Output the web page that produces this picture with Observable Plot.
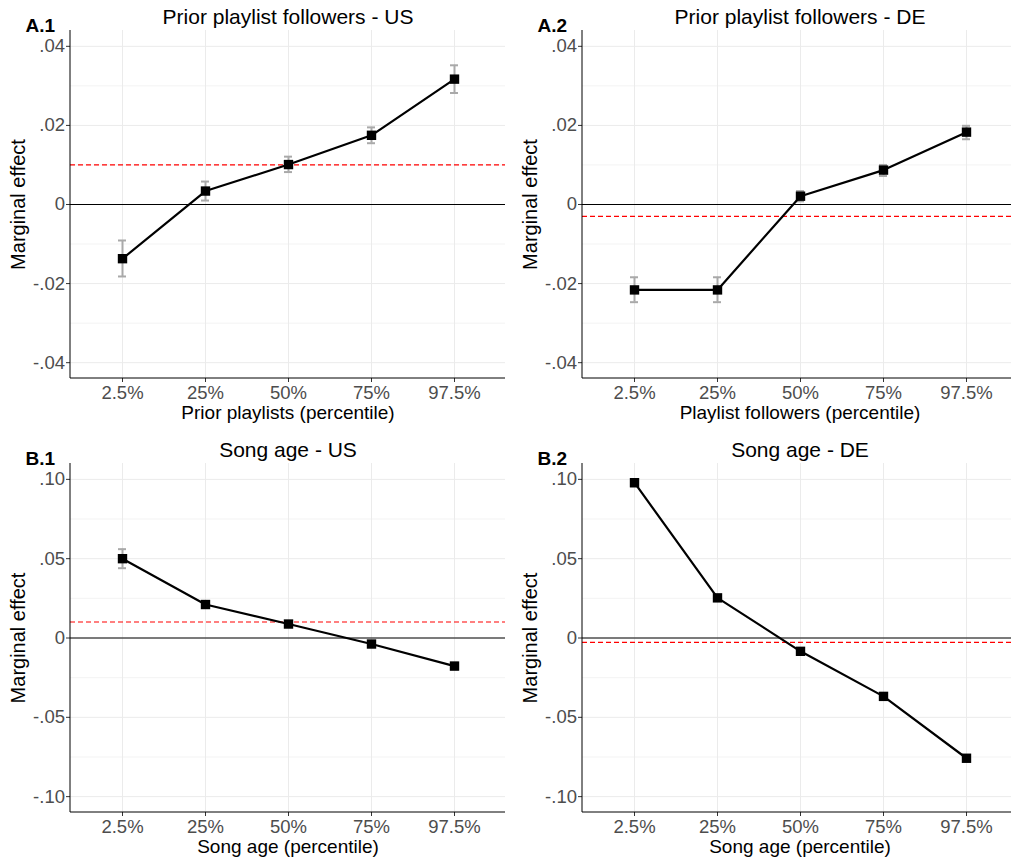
<!DOCTYPE html>
<html>
<head>
<meta charset="utf-8">
<script src="https://cdn.jsdelivr.net/npm/d3@7"></script>
<script src="https://cdn.jsdelivr.net/npm/@observablehq/plot@0.6"></script>
<style>
  html, body { margin: 0; padding: 0; background: white; }
  #wrap { position: relative; width: 1011px; height: 858px; overflow: hidden; background: white; }
  #wrap svg { position: absolute; }
</style>
</head>
<body>
<div id="wrap"></div>
<script>
// ---- data ----
const categories = ["2.5%", "25%", "50%", "75%", "97.5%"];

const a1Est = [-0.0137, 0.0034, 0.0101, 0.0175, 0.0317];
const a1Lo  = [-0.0182, 0.0010, 0.0082, 0.0155, 0.0282];
const a1Hi  = [-0.0091, 0.0058, 0.0121, 0.0195, 0.0352];
const a1Ref = 0.0100;

const a2Est = [-0.0216, -0.0216, 0.0021, 0.0087, 0.0183];
const a2Lo  = [-0.0247, -0.0247, 0.0008, 0.0072, 0.0165];
const a2Hi  = [-0.0184, -0.0184, 0.0034, 0.0100, 0.0199];
const a2Ref = -0.0030;

const b1Est = [0.0500, 0.0211, 0.0088, -0.0038, -0.0177];
const b1Lo  = [0.0440, 0.0190, 0.0075, -0.0052, -0.0198];
const b1Hi  = [0.0560, 0.0232, 0.0101, -0.0024, -0.0156];
const b1Ref = 0.0101;

const b2Est = [0.0979, 0.0253, -0.0084, -0.0368, -0.0758];
const b2Lo  = [0.0955, 0.0240, -0.0094, -0.0378, -0.0768];
const b2Hi  = [0.0995, 0.0266, -0.0074, -0.0358, -0.0748];
const b2Ref = -0.0027;

const yTicksA = [-0.04, -0.02, 0, 0.02, 0.04];
const yMinorA = [-0.03, -0.01, 0.01, 0.03];
const yDomainA = [-0.044, 0.044];
const yTicksB = [-0.10, -0.05, 0, 0.05, 0.10];
const yMinorB = [-0.075, -0.025, 0.025, 0.075];
const yDomainB = [-0.11, 0.11];

const titles = ["Prior playlist followers - US", "Prior playlist followers - DE", "Song age - US", "Song age - DE"];
const tags = ["A.1", "A.2", "B.1", "B.2"];
const xLabels = ["Prior playlists (percentile)", "Playlist followers (percentile)", "Song age (percentile)", "Song age (percentile)"];
const yLabel = "Marginal effect";

// ---- drawing ----
const fmt = d => d === 0 ? "0" : (d < 0 ? "-" : "") + Math.abs(d).toFixed(2).slice(1);
const FONT = "'Liberation Sans', Arial, sans-serif";

function axisLines(index, scales, values, dims) {
  const {width, height, marginLeft, marginRight, marginTop, marginBottom} = dims;
  return d3.create("svg:path")
    .attr("d", `M${marginLeft},${marginTop}V${height - marginBottom}H${width - marginRight}`)
    .attr("fill", "none").attr("stroke", "#000").attr("stroke-width", 1)
    .node();
}

function panel(i, est, lo, hi, ref, domain, ticks, minor, left, top, mTop, mBottom) {
  const rows = categories.map((c, k) => ({cat: c, est: est[k], lo: lo[k], hi: hi[k]}));
  const svg = Plot.plot({
    width: 505, height: 430,
    marginLeft: 70, marginRight: 0, marginTop: mTop, marginBottom: mBottom,
    style: {fontFamily: FONT, fontSize: "18.5px", background: "transparent", overflow: "visible"},
    x: {type: "band", domain: categories, paddingInner: 0.905, paddingOuter: 0.548, align: 0.5},
    y: {domain: domain},
    marks: [
      Plot.ruleY(minor, {stroke: "#f3f3f3", strokeWidth: 1}),
      Plot.ruleY(ticks, {stroke: "#ebebeb", strokeWidth: 1}),
      Plot.ruleX(categories, {stroke: "#ebebeb", strokeWidth: 1}),
      Plot.ruleY([0], {stroke: "#000", strokeWidth: 1}),
      Plot.ruleY([ref], {stroke: "#ff0000", strokeWidth: 1.2, strokeDasharray: "5,3"}),
      Plot.axisX({tickSize: 4, tickPadding: 3, stroke: "#333", fill: "#4d4d4d", label: null, fontSize: 18.5}),
      Plot.axisY({ticks: ticks, tickFormat: fmt, tickSize: 4, tickPadding: 1.5, stroke: "#333", fill: "#4d4d4d", label: null, fontSize: 18.5}),
      axisLines,
      Plot.ruleX(rows, {x: "cat", y1: "lo", y2: "hi", stroke: "#a9a9a9", strokeWidth: 2}),
      Plot.tickY(rows, {x: "cat", y: "lo", stroke: "#a9a9a9", strokeWidth: 2}),
      Plot.tickY(rows, {x: "cat", y: "hi", stroke: "#a9a9a9", strokeWidth: 2}),
      Plot.line(rows, {x: "cat", y: "est", stroke: "#000", strokeWidth: 2.2}),
      Plot.dot(rows, {x: "cat", y: "est", symbol: "square", r: 5.3, fill: "#000", stroke: "none"}),
      Plot.text([titles[i]], {text: d => d, frameAnchor: "top", dy: -13, lineAnchor: "middle", fontSize: 21, fill: "#000"}),
      Plot.text([tags[i]], {text: d => d, frameAnchor: "top-left", dx: -45, dy: -5, textAnchor: "start", lineAnchor: "middle", fontSize: 19, fontWeight: "bold", fill: "#000"}),
      Plot.text([yLabel], {text: d => d, frameAnchor: "left", rotate: -90, dx: -52, textAnchor: "middle", lineAnchor: "middle", fontSize: 20, fill: "#000"}),
      Plot.text([xLabels[i]], {text: d => d, frameAnchor: "bottom", dy: 34, textAnchor: "middle", lineAnchor: "middle", fontSize: 19, fill: "#000"})
    ]
  });
  svg.style.left = left + "px";
  svg.style.top = top + "px";
  document.getElementById("wrap").appendChild(svg);
}

panel(0, a1Est, a1Lo, a1Hi, a1Ref, yDomainA, yTicksA, yMinorA, 0, 0, 30, 52);
panel(1, a2Est, a2Lo, a2Hi, a2Ref, yDomainA, yTicksA, yMinorA, 512, 0, 30, 52);
panel(2, b1Est, b1Lo, b1Hi, b1Ref, yDomainB, yTicksB, yMinorB, 0, 430, 33, 48);
panel(3, b2Est, b2Lo, b2Hi, b2Ref, yDomainB, yTicksB, yMinorB, 512, 430, 33, 48);
</script>
</body>
</html>
